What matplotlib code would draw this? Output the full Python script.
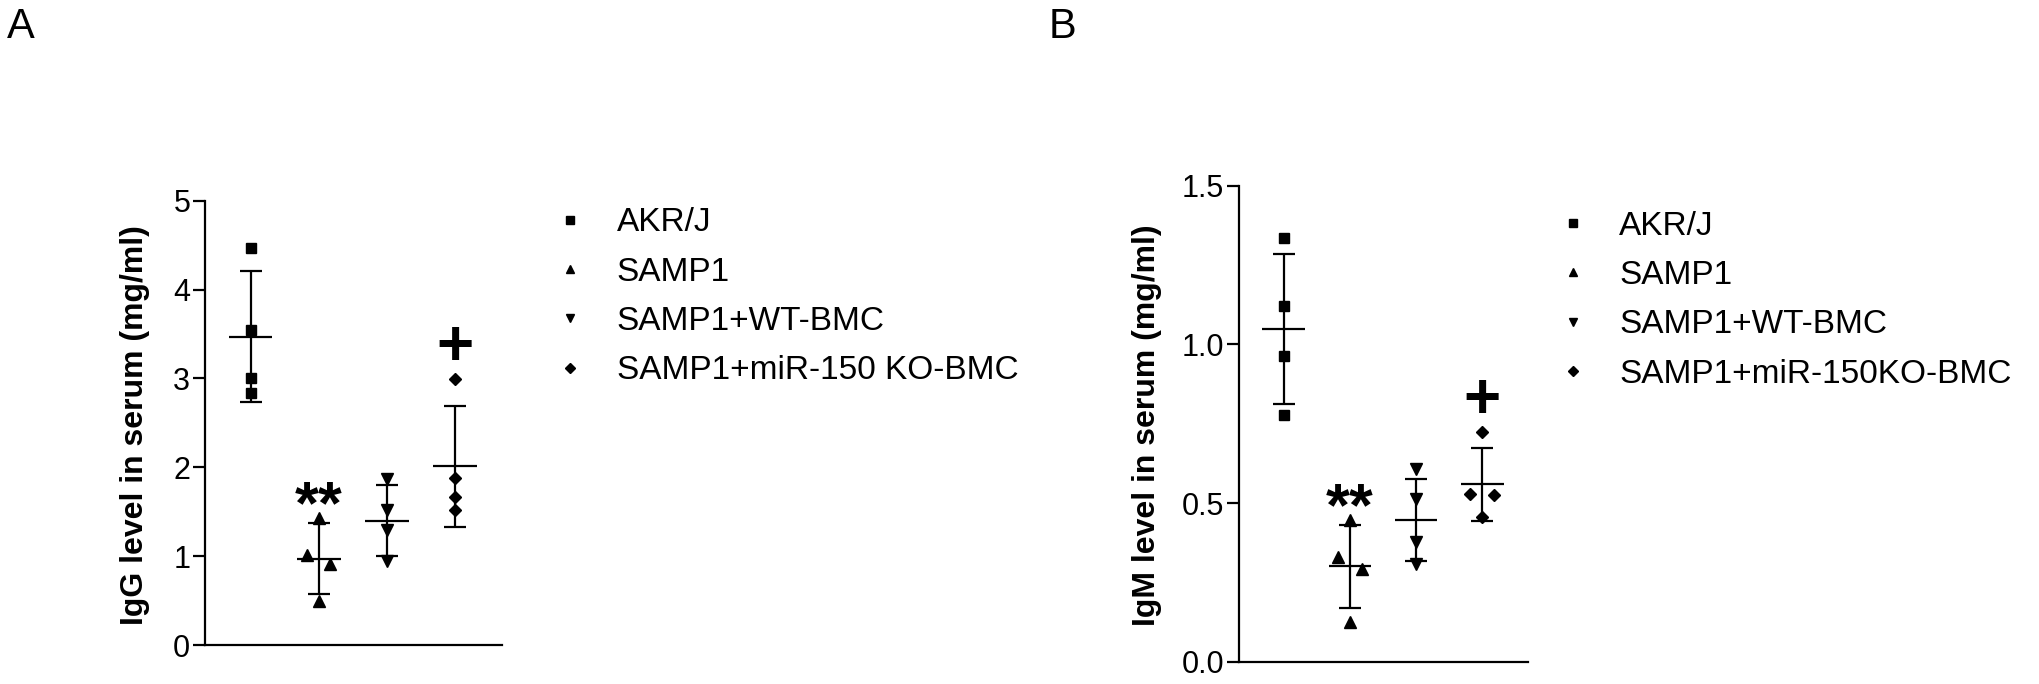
import numpy as np
import matplotlib.pyplot as plt
from matplotlib.lines import Line2D

plt.rcParams['font.family'] = ['Liberation Sans', 'DejaVu Sans']

groups = ['AKR/J', 'SAMP1', 'SAMP1+WT-BMC', 'SAMP1+miR-150 KO-BMC']
groups_b = ['AKR/J', 'SAMP1', 'SAMP1+WT-BMC', 'SAMP1+miR-150KO-BMC']
markers = ['s', '^', 'v', 'D']
msizes = [7.5, 8.5, 8.5, 6.5]

# IgG (panel A), individual mice per group
igg_pts = [[4.47, 3.55, 3.01, 2.84],
           [1.43, 1.01, 0.91, 0.49],
           [1.87, 1.52, 1.29, 0.94],
           [2.99, 1.88, 1.66, 1.52]]
igg_off = [[0, 0, 0, 0], [0, -0.17, 0.17, 0], [0, 0, 0, 0], [0, 0, 0, 0]]
igg_mean = [3.47, 0.97, 1.40, 2.01]
igg_sd = [0.74, 0.40, 0.40, 0.68]

# IgM (panel B)
igm_pts = [[1.334, 1.122, 0.963, 0.777],
           [0.445, 0.331, 0.291, 0.126],
           [0.606, 0.512, 0.378, 0.308],
           [0.725, 0.530, 0.525, 0.455]]
igm_off = [[0, 0, 0, 0], [0, -0.18, 0.18, 0], [0, 0, 0, 0], [0, -0.18, 0.18, 0]]
igm_mean = [1.048, 0.301, 0.446, 0.559]
igm_sd = [0.237, 0.131, 0.130, 0.116]

fig = plt.figure(figsize=(20.4, 6.84), dpi=100)
axA = fig.add_axes([0.1005, 0.057, 0.1456, 0.6496])
axB = fig.add_axes([0.6074, 0.0326, 0.1417, 0.6959])


def draw(ax, pts, off, mean, sd, ylim, yticks, ytl, ylabel, sig):
    x = np.arange(1, 5)
    for i in range(4):
        ax.plot(x[i] + np.array(off[i]), pts[i], ls='none', marker=markers[i],
                ms=msizes[i], color='black', clip_on=False, zorder=3)
    ax.errorbar(x, mean, yerr=sd, fmt='none', ecolor='black', elinewidth=1.6,
                capsize=8, capthick=1.6, zorder=2)
    ax.hlines(mean, x - 0.32, x + 0.32, color='black', lw=1.6, zorder=2)
    ax.set_xlim(0.33, 4.69)
    ax.set_ylim(*ylim)
    ax.set_yticks(yticks)
    ax.set_yticklabels(ytl)
    ax.set_xticks([])
    for s in ['top', 'right']:
        ax.spines[s].set_visible(False)
    for s in ['left', 'bottom']:
        ax.spines[s].set_linewidth(1.6)
    ax.tick_params(axis='y', length=8.6, width=1.6, labelsize=22, pad=2)
    ax.set_ylabel(ylabel, fontsize=23, fontweight='bold')
    # significance marks
    ax.text(2, sig[0], '**', ha='center', va='center', fontsize=44, fontweight='bold')
    ax.text(4, sig[1], '+', ha='center', va='center', fontsize=46, fontweight='bold')


draw(axA, igg_pts, igg_off, igg_mean, igg_sd, (0, 5), [0, 1, 2, 3, 4, 5],
     ['0', '1', '2', '3', '4', '5'], 'IgG level in serum (mg/ml)', (1.55, 3.34))
draw(axB, igm_pts, igm_off, igm_mean, igm_sd, (0, 1.5), [0, 0.5, 1.0, 1.5],
     ['0.0', '0.5', '1.0', '1.5'], 'IgM level in serum (mg/ml)', (0.48, 0.822))
axA.yaxis.set_label_coords(-0.185, 0.495)
axB.yaxis.set_label_coords(-0.266, 0.497)

for ax, labels, anchor in [(axA, groups, (0.2745, 0.697)), (axB, groups_b, (0.766, 0.692))]:
    handles = [Line2D([], [], ls='none', marker=m, color='black', ms=5.5) for m in markers]
    ax.legend(handles, labels, loc='upper left', bbox_to_anchor=anchor,
              bbox_transform=fig.transFigure, frameon=False, fontsize=24,
              handlelength=0.6, handletextpad=1.1, labelspacing=0.55,
              borderpad=0, borderaxespad=0)

fig.text(0.0103, 0.96, 'A', fontsize=30, ha='center', va='center')
fig.text(0.521, 0.96, 'B', fontsize=30, ha='center', va='center')

fig.savefig('out.png', dpi=100)
